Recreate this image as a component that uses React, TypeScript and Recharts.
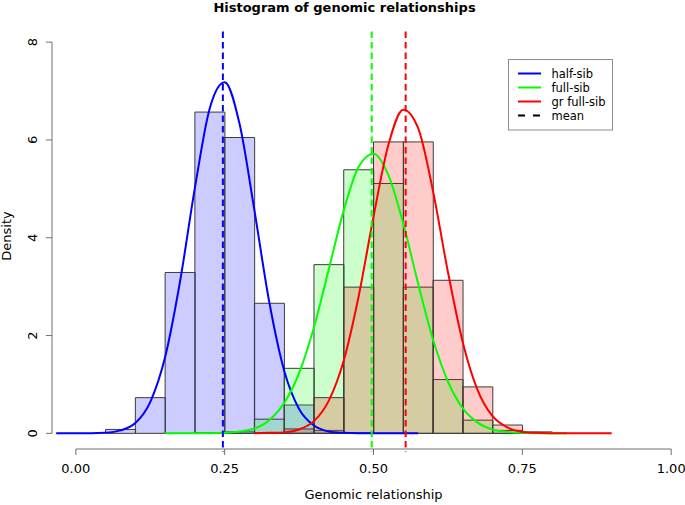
import { ComposedChart, Bar, Line, XAxis, YAxis, ReferenceLine } from "recharts";

const FONT = "DejaVu Sans";

// histogram bins (mid points, width 0.05)
const binMids = [0.025, 0.075, 0.125, 0.175, 0.225, 0.275, 0.325, 0.375, 0.425, 0.475, 0.525, 0.575, 0.625, 0.675, 0.725, 0.775, 0.825];
const halfSibHist = [0, 0.08, 0.73, 3.29, 6.57, 6.05, 2.66, 0.58, 0.06, 0.01, 0, 0, 0, 0, 0, 0, 0];
const fullSibHist = [0, 0, 0, 0, 0.01, 0.03, 0.29, 1.33, 3.45, 5.39, 5.11, 2.99, 1.1, 0.27, 0.06, 0, 0];
const grFullSibHist = [0, 0, 0, 0, 0, 0, 0.01, 0.09, 0.73, 2.99, 5.96, 5.96, 3.13, 0.95, 0.17, 0.03, 0];

// fitted density curves
const curveX = [
  -0.033, 0, 0.025, 0.05, 0.075, 0.1, 0.125, 0.15, 0.175, 0.2, 0.225, 0.25, 0.275, 0.3, 0.325, 0.35, 0.375, 0.4, 0.425,
  0.45, 0.475, 0.5, 0.525, 0.55, 0.575, 0.6, 0.625, 0.65, 0.675, 0.7, 0.725, 0.75, 0.775, 0.8, 0.825, 0.85, 0.875, 0.9,
];
const halfSibCurve = [
  0, 0, 0, 0.01, 0.06, 0.21, 0.64, 1.56, 3.1, 5.02, 6.65, 7.18, 6.33, 4.56, 2.68, 1.28, 0.5, 0.16, 0.04,
  0.01, 0, 0, 0, 0, 0, null, null, null, null, null, null, null, null, null, null, null, null, null,
];
const fullSibCurve = [
  null, null, null, null, null, null, null, 0, 0, 0, 0, 0.01, 0.04, 0.1, 0.27, 0.62, 1.23, 2.17, 3.36,
  4.56, 5.45, 5.72, 5.28, 4.29, 3.06, 1.92, 1.06, 0.51, 0.22, 0.08, 0.03, 0.01, 0, 0, 0, null, null, null,
];
const grFullSibCurve = [
  null, null, null, null, null, null, null, null, null, null, null, null, null, 0, 0.01, 0.02, 0.08, 0.25, 0.67,
  1.49, 2.8, 4.43, 5.9, 6.62, 6.24, 4.95, 3.3, 1.86, 0.88, 0.35, 0.12, 0.03, 0.01, 0, 0, 0, 0, 0,
];

const seriesNames = ["half-sib", "full-sib", "gr full-sib"];
const groupMeans = [0.247, 0.497, 0.554];
const xTicks = [0, 0.25, 0.5, 0.75, 1];
const yTicks = [0, 2, 4, 6, 8];

const colors = ["#0000ff", "#00ff00", "#ff0000"];
const axisGrey = "#707070";
const xDomain = [-0.04, 1.04];
const yDomain = [-0.32, 8.32];

const binRows = binMids.map((x, i) => ({
  x,
  half: halfSibHist[i],
  full: fullSibHist[i],
  gr: grFullSibHist[i],
}));

const curveRows = curveX.map((x, i) => ({
  x,
  half: halfSibCurve[i],
  full: fullSibCurve[i],
  gr: grFullSibCurve[i],
}));

const keys = ["half", "full", "gr"];

function DensityTick({ y, payload }: any) {
  return (
    <text x={37} y={y} transform={`rotate(-90 37 ${y})`} textAnchor="middle" fontSize={13} fontFamily={FONT} fill="#000">
      {payload.value}
    </text>
  );
}

function DensityLabel() {
  return (
    <text x={11} y={236} transform="rotate(-90 11 236)" textAnchor="middle" fontSize={13} fontFamily={FONT} fill="#000">
      Density
    </text>
  );
}

export default function App() {
  return (
    <div
      style={{
        position: "absolute",
        left: 0,
        top: 0,
        width: 685,
        height: 505,
        overflow: "hidden",
        background: "#fff",
        fontFamily: FONT,
      }}
    >
      <ComposedChart
        width={720}
        height={505}
        data={binRows}
        barCategoryGap={0}
        barGap={0}
        margin={{ top: 26.5, right: 25, bottom: 0, left: 0 }}
      >
        <XAxis
          xAxisId="curve"
          dataKey="x"
          type="number"
          domain={xDomain}
          allowDataOverflow
          ticks={xTicks}
          tickFormatter={(v) => Number(v).toFixed(2)}
          tick={{ fill: "#000", fontSize: 13, fontFamily: FONT }}
          tickLine={{ stroke: axisGrey }}
          tickSize={6}
          tickMargin={9}
          axisLine={false}
          height={56}
          label={{ value: "Genomic relationship", position: "insideBottom", offset: 6, fill: "#000", fontSize: 13, fontFamily: FONT }}
        />
        {keys.map((k) => (
          <XAxis key={k} xAxisId={k} dataKey="x" type="number" domain={xDomain} allowDataOverflow hide />
        ))}
        <YAxis
          type="number"
          domain={yDomain}
          allowDataOverflow
          ticks={yTicks}
          tick={<DensityTick />}
          tickLine={{ stroke: axisGrey }}
          tickSize={6}
          axisLine={false}
          width={52}
          label={<DensityLabel />}
        />

        {keys.map((k, i) => (
          <Bar
            key={k}
            xAxisId={k}
            dataKey={k}
            name={seriesNames[i]}
            fill={colors[i]}
            fillOpacity={0.2}
            stroke="#3c3c3c"
            strokeWidth={1}
            isAnimationActive={false}
          />
        ))}

        {keys.map((k, i) => (
          <Line
            key={k}
            xAxisId="curve"
            data={curveRows}
            dataKey={k}
            type="monotone"
            stroke={colors[i]}
            strokeWidth={2}
            dot={false}
            activeDot={false}
            isAnimationActive={false}
          />
        ))}

        <ReferenceLine
          xAxisId="curve"
          segment={[{ x: 0, y: -0.32 }, { x: 1, y: -0.32 }]}
          stroke={axisGrey}
          ifOverflow="visible"
        />
        <ReferenceLine
          xAxisId="curve"
          segment={[{ x: -0.04, y: 0 }, { x: -0.04, y: 8 }]}
          stroke={axisGrey}
          ifOverflow="visible"
        />
        {groupMeans.map((m, i) => (
          <ReferenceLine
            key={i}
            xAxisId="curve"
            segment={[{ x: m, y: 8.22 }, { x: m, y: -0.38 }]}
            stroke={colors[i]}
            strokeWidth={2}
            strokeDasharray="6.5 4"
            ifOverflow="visible"
          />
        ))}
      </ComposedChart>

      <svg width={685} height={505} style={{ position: "absolute", left: 0, top: 0, pointerEvents: "none" }}>
        <text x={344.5} y={12} textAnchor="middle" fontSize={13} fontWeight="bold" fontFamily={FONT} fill="#000">
          Histogram of genomic relationships
        </text>
        <rect x={508.5} y={59.5} width={104} height={70.5} fill="none" stroke="#8c8c8c" />
        {[...seriesNames, "mean"].map((name, i) => {
          const y = 73.5 + i * 14;
          return (
            <g key={name}>
              <line
                x1={518}
                x2={541}
                y1={y}
                y2={y}
                stroke={i < 3 ? colors[i] : "#000"}
                strokeWidth={2}
                strokeDasharray={i < 3 ? undefined : "7 8"}
              />
              <text x={551.5} y={y + 4} fontSize={11.5} fontFamily={FONT} fill="#000">
                {name}
              </text>
            </g>
          );
        })}
      </svg>
    </div>
  );
}
